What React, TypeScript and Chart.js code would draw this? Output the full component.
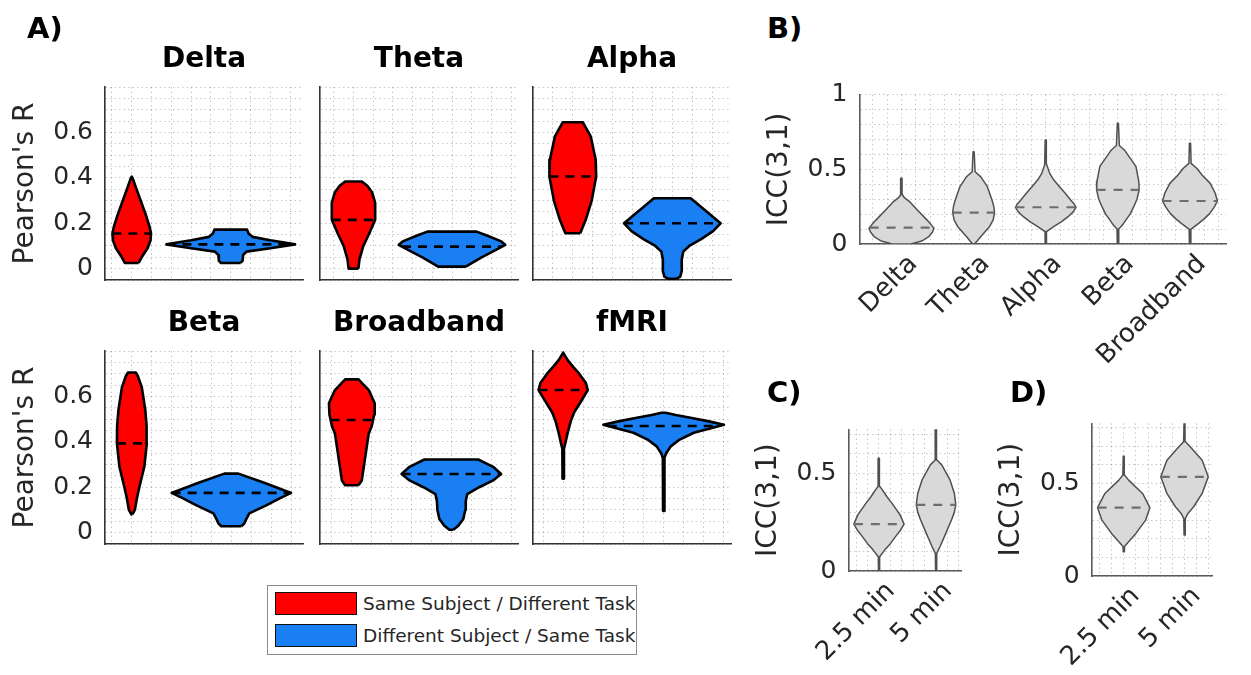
import React, { useEffect, useRef } from 'react';
import { Chart, registerables } from 'chart.js';

Chart.register(...registerables);

const FONT = "'DejaVu Sans', sans-serif";
Chart.defaults.font.family = FONT;

type Profile = number[][]; // [value, half-width] pairs, ascending by value

// ---------- Panel A: Pearson's R distributions ----------
const bandTitles = ['Delta', 'Theta', 'Alpha', 'Beta', 'Broadband', 'fMRI'];
const sameMedians = [0.155, 0.215, 0.406, 0.393, 0.496, 0.628];
const diffMedians = [0.107, 0.097, 0.2, 0.175, 0.258, 0.47];

const deltaSame: Profile = [[0.025, 0.07], [0.05, 0.1], [0.09, 0.16], [0.125, 0.19], [0.155, 0.195], [0.185, 0.18], [0.24, 0.14], [0.3, 0.09], [0.36, 0.04], [0.395, 0.012], [0.405, 0]];
const deltaDiff: Profile = [[0.025, 0.1], [0.035, 0.12], [0.06, 0.125], [0.075, 0.16], [0.09, 0.4], [0.107, 0.65], [0.125, 0.4], [0.14, 0.22], [0.155, 0.18], [0.172, 0.165]];
const thetaSame: Profile = [[0, 0.05], [0.04, 0.06], [0.1, 0.1], [0.155, 0.16], [0.215, 0.22], [0.29, 0.22], [0.335, 0.19], [0.365, 0.14], [0.384, 0.085]];
const thetaDiff: Profile = [[0.009, 0.14], [0.05, 0.3], [0.09, 0.48], [0.105, 0.54], [0.12, 0.5], [0.145, 0.36], [0.163, 0.25]];
const alphaSame: Profile = [[0.156, 0.075], [0.215, 0.13], [0.3, 0.19], [0.406, 0.235], [0.48, 0.23], [0.583, 0.18], [0.645, 0.1]];
const alphaDiff: Profile = [[-0.045, 0.04], [-0.035, 0.08], [-0.01, 0.095], [0.04, 0.095], [0.075, 0.11], [0.1, 0.17], [0.13, 0.29], [0.165, 0.41], [0.2, 0.485], [0.25, 0.35], [0.31, 0.185]];
const betaSame: Profile = [[0.08, 0.005], [0.1, 0.03], [0.15, 0.05], [0.2, 0.075], [0.29, 0.125], [0.393, 0.15], [0.47, 0.148], [0.54, 0.135], [0.64, 0.1], [0.69, 0.06], [0.705, 0.04]];
const betaDiff: Profile = [[0.028, 0.1], [0.04, 0.13], [0.06, 0.15], [0.085, 0.18], [0.12, 0.35], [0.15, 0.48], [0.175, 0.6], [0.22, 0.33], [0.26, 0.07]];
const broadbandSame: Profile = [[0.209, 0.067], [0.23, 0.1], [0.29, 0.12], [0.364, 0.145], [0.437, 0.17], [0.47, 0.2], [0.52, 0.225], [0.57, 0.23], [0.628, 0.17], [0.675, 0.067]];
const broadbandDiff: Profile = [[0.013, 0.02], [0.03, 0.07], [0.06, 0.12], [0.1, 0.14], [0.14, 0.145], [0.17, 0.16], [0.2, 0.28], [0.23, 0.42], [0.258, 0.5], [0.29, 0.42], [0.322, 0.27]];
const fmriSame: Profile = [[0.238, 0.006], [0.37, 0.008], [0.4, 0.025], [0.44, 0.045], [0.49, 0.075], [0.53, 0.11], [0.58, 0.18], [0.628, 0.245], [0.66, 0.225], [0.7, 0.16], [0.73, 0.1], [0.76, 0.045], [0.793, 0]];
const fmriDiff: Profile = [[0.096, 0.006], [0.33, 0.008], [0.35, 0.025], [0.38, 0.07], [0.41, 0.16], [0.44, 0.3], [0.46, 0.47], [0.475, 0.6], [0.49, 0.45], [0.505, 0.28], [0.518, 0.12], [0.528, 0.02]];

const sameProfiles = [deltaSame, thetaSame, alphaSame, betaSame, broadbandSame, fmriSame];
const diffProfiles = [deltaDiff, thetaDiff, alphaDiff, betaDiff, broadbandDiff, fmriDiff];
const pearsonTicks = [0, 0.2, 0.4, 0.6];

// ---------- Panel B: ICC(3,1) per band ----------
const iccBands = ['Delta', 'Theta', 'Alpha', 'Beta', 'Broadband'];
const iccMedians = [0.11, 0.21, 0.246, 0.362, 0.288];
const iccDelta: Profile = [[0, 0.13], [0.02, 0.28], [0.05, 0.38], [0.08, 0.43], [0.105, 0.45], [0.13, 0.41], [0.16, 0.355], [0.228, 0.22], [0.28, 0.12], [0.31, 0.04], [0.33, 0.012], [0.44, 0.008]];
const iccTheta: Profile = [[0, 0.01], [0.02, 0.05], [0.05, 0.1], [0.116, 0.22], [0.16, 0.27], [0.21, 0.29], [0.25, 0.28], [0.295, 0.255], [0.384, 0.19], [0.45, 0.1], [0.484, 0.02], [0.618, 0.008]];
const iccAlpha: Profile = [[0, 0.008], [0.083, 0.01], [0.1, 0.06], [0.116, 0.11], [0.15, 0.22], [0.183, 0.31], [0.215, 0.38], [0.246, 0.42], [0.27, 0.39], [0.295, 0.345], [0.34, 0.27], [0.384, 0.19], [0.43, 0.11], [0.473, 0.055], [0.53, 0.015], [0.696, 0.008]];
const iccBeta: Profile = [[0, 0.008], [0.1, 0.012], [0.125, 0.06], [0.16, 0.11], [0.2, 0.17], [0.25, 0.22], [0.3, 0.265], [0.362, 0.295], [0.42, 0.29], [0.47, 0.27], [0.52, 0.25], [0.575, 0.17], [0.63, 0.09], [0.66, 0.02], [0.808, 0.008]];
const iccBroadband: Profile = [[0, 0.008], [0.098, 0.012], [0.12, 0.07], [0.138, 0.12], [0.17, 0.2], [0.205, 0.275], [0.25, 0.34], [0.288, 0.38], [0.34, 0.35], [0.406, 0.28], [0.46, 0.17], [0.507, 0.093], [0.54, 0.015], [0.674, 0.008]];
const iccProfiles = [iccDelta, iccTheta, iccAlpha, iccBeta, iccBroadband];
const iccTicksB = [0, 0.5, 1];

// ---------- Panels C and D: ICC(3,1) by recording length ----------
const durations = ['2.5 min', '5 min'];
const durMediansC = [0.24, 0.338];
const durMediansD = [0.369, 0.536];
const durC25: Profile = [[0, 0.008], [0.073, 0.012], [0.107, 0.1], [0.14, 0.2], [0.176, 0.29], [0.21, 0.38], [0.24, 0.44], [0.287, 0.37], [0.346, 0.23], [0.38, 0.14], [0.415, 0.06], [0.432, 0.015], [0.577, 0.008]];
const durC5: Profile = [[0, 0.008], [0.09, 0.012], [0.125, 0.07], [0.176, 0.146], [0.261, 0.27], [0.3, 0.32], [0.338, 0.346], [0.398, 0.32], [0.466, 0.245], [0.543, 0.1], [0.568, 0.015], [0.725, 0.008]];
const durD25: Profile = [[0.131, 0.008], [0.16, 0.012], [0.185, 0.08], [0.23, 0.2], [0.302, 0.36], [0.369, 0.43], [0.446, 0.31], [0.518, 0.08], [0.545, 0.015], [0.647, 0.008]];
const durD5: Profile = [[0.221, 0.008], [0.31, 0.012], [0.338, 0.056], [0.374, 0.15], [0.446, 0.29], [0.536, 0.39], [0.626, 0.29], [0.698, 0.093], [0.725, 0.015], [0.824, 0.008]];
const iccTicksCD = [0, 0.5];

const legendLabels = ['Same Subject / Different Task', 'Different Subject / Same Task'];

// ---------- styling ----------
const RED = '#ff0000';
const BLUE = '#1a7ff2';
const GRAY_FILL = '#d9d9d9';
const GRAY_LINE = '#505050';
const GRAY_MEDIAN = '#6e6e6e';
const GRID = 'rgba(0,0,0,0.22)';
const TICK = '#262626';

type Violin = {
  center: number; profile: Profile; median: number;
  fill: string; stroke: string; strokeWidth: number;
  medianColor: string; medianWidth: number; dash: number[];
};

type PanelSpec = {
  key: string;
  left: number; top: number; width: number; height: number;
  padTop: number; padRight: number;
  yAxisWidth: number; xAxisHeight: number;
  xMin: number; xMax: number; yMin: number; yMax: number;
  xGrid: number[]; yGrid: number[];
  yLabels: number[] | null; xNames: string[] | null;
  title?: string; yTitle?: string; yTitlePad?: number;
  axisColor: string;
  violins: Violin[];
};

function steps(from: number, to: number, step: number): number[] {
  const out: number[] = [];
  for (let v = from; v <= to + 1e-9; v += step) out.push(Math.round(v * 1000) / 1000);
  return out;
}

function outline(center: number, profile: Profile) {
  const right = profile.map(([y, w]) => ({ x: center + w, y }));
  const left = profile.slice().reverse().map(([y, w]) => ({ x: center - w, y }));
  return [...right, ...left, right[0]];
}

function widthAt(profile: Profile, v: number): number {
  for (let i = 1; i < profile.length; i++) {
    const [y0, w0] = profile[i - 1];
    const [y1, w1] = profile[i];
    if (v >= y0 && v <= y1) return w0 + ((v - y0) / (y1 - y0)) * (w1 - w0);
  }
  return 0;
}

function buildConfig(s: PanelSpec): any {
  const datasets: any[] = [];
  s.violins.forEach((v) => {
    // violin body (drawn underneath the median line)
    datasets.push({
      data: outline(v.center, v.profile),
      order: 2,
      showLine: true,
      fill: 'shape',
      backgroundColor: v.fill,
      borderColor: v.stroke,
      borderWidth: v.strokeWidth,
      borderJoinStyle: 'round',
      pointRadius: 0,
      tension: 0,
    });
    const hw = widthAt(v.profile, v.median);
    datasets.push({
      data: [{ x: v.center - hw, y: v.median }, { x: v.center + hw, y: v.median }],
      order: 1,
      showLine: true,
      fill: false,
      borderColor: v.medianColor,
      borderWidth: v.medianWidth,
      borderDash: v.dash,
      pointRadius: 0,
    });
  });

  const yLabel = (val: number) => {
    if (!s.yLabels) return '';
    const hit = s.yLabels.find((l) => Math.abs(l - val) < 1e-6);
    return hit === undefined ? '' : String(hit);
  };
  const xLabel = (val: number) => {
    if (!s.xNames) return '';
    const r = Math.round(val);
    if (Math.abs(val - r) > 1e-6 || r < 1 || r > s.xNames.length) return '';
    return s.xNames[r - 1];
  };

  return {
    type: 'scatter',
    data: { datasets },
    options: {
      responsive: false,
      animation: false,
      events: [],
      layout: { padding: { top: s.padTop, right: s.padRight, left: 0, bottom: 0 } },
      plugins: {
        legend: { display: false },
        tooltip: { enabled: false },
        title: s.title
          ? {
              display: true,
              text: s.title,
              fullSize: false,
              color: '#000',
              font: { family: FONT, size: 28, weight: 'bold', lineHeight: 1.2 },
              padding: { top: 3.2, bottom: 10.2 },
            }
          : { display: false },
      },
      scales: {
        x: {
          type: 'linear',
          min: s.xMin,
          max: s.xMax,
          bounds: 'data',
          afterBuildTicks: (scale: any) => { scale.ticks = s.xGrid.map((value) => ({ value })); },
          afterFit: (scale: any) => { scale.height = s.xAxisHeight; },
          grid: { color: GRID, lineWidth: 1, drawTicks: false },
          border: { display: true, color: s.axisColor, width: 1.6, dash: [1.5, 3] },
          ticks: {
            display: !!s.xNames,
            autoSkip: false,
            minRotation: 45,
            maxRotation: 45,
            padding: 5,
            labelOffset: 12,
            color: TICK,
            font: { family: FONT, size: 26 },
            callback: (val: any) => xLabel(Number(val)),
          },
        },
        y: {
          type: 'linear',
          min: s.yMin,
          max: s.yMax,
          bounds: 'data',
          afterBuildTicks: (scale: any) => { scale.ticks = s.yGrid.map((value) => ({ value })); },
          afterFit: (scale: any) => { scale.width = s.yAxisWidth; },
          grid: { color: GRID, lineWidth: 1, drawTicks: false },
          border: { display: true, color: s.axisColor, width: 1.6, dash: [1.5, 3] },
          ticks: {
            display: !!s.yLabels,
            autoSkip: false,
            padding: 12,
            color: TICK,
            font: { family: FONT, size: 25 },
            callback: (val: any) => yLabel(Number(val)),
          },
          title: {
            display: !!s.yTitle,
            text: s.yTitle || '',
            color: TICK,
            font: { family: FONT, size: 28, lineHeight: 1.2 },
            padding: { top: s.yTitlePad || 0, bottom: 0 },
          },
        },
      },
    },
  };
}

// ---------- panel layout ----------
const colLeft = [0, 300, 513];
const colAxisW = [105, 20, 20];
const colWidth = [305, 220, 220];
const rowTop = [40, 304];
const panelXMin = [0.73, 0.66, 0.6, 0.73, 0.68, 0.7];
const panelXMax = [2.73, 2.67, 2.59, 2.72, 2.67, 2.67];

const bandSpecs: PanelSpec[] = bandTitles.map((title, i) => {
  const col = i % 3;
  const row = Math.floor(i / 3);
  const xGrid = steps(0.8, 2.6, 0.2).filter((v) => v > panelXMin[i] && v < panelXMax[i]);
  return {
    key: title,
    left: colLeft[col], top: rowTop[row], width: colWidth[col], height: 270,
    padTop: 0, padRight: 2,
    yAxisWidth: colAxisW[col], xAxisHeight: 30,
    xMin: panelXMin[i], xMax: panelXMax[i], yMin: -0.05, yMax: 0.8,
    xGrid, yGrid: steps(-0.05, 0.8, 0.05),
    yLabels: col === 0 ? pearsonTicks : null, xNames: null,
    title, yTitle: col === 0 ? "Pearson's R" : undefined, yTitlePad: 9,
    axisColor: '#333333',
    violins: [
      { center: 1, profile: sameProfiles[i], median: sameMedians[i], fill: RED, stroke: '#000', strokeWidth: 2.6, medianColor: '#000', medianWidth: 2.6, dash: [9, 7] },
      { center: 2, profile: diffProfiles[i], median: diffMedians[i], fill: BLUE, stroke: '#000', strokeWidth: 2.6, medianColor: '#000', medianWidth: 2.6, dash: [9, 7] },
    ],
  };
});

const grayViolin = (center: number, profile: Profile, median: number): Violin => ({
  center, profile, median, fill: GRAY_FILL, stroke: GRAY_LINE, strokeWidth: 1.5,
  medianColor: GRAY_MEDIAN, medianWidth: 2.2, dash: [9, 8],
});

const iccSpec: PanelSpec = {
  key: 'B',
  left: 740, top: 65, width: 506, height: 325,
  padTop: 29.7, padRight: 4,
  yAxisWidth: 119.3, xAxisHeight: 146,
  xMin: 0.415, xMax: 5.5, yMin: 0, yMax: 1,
  xGrid: steps(0.6, 5.4, 0.2), yGrid: steps(0, 1, 0.1),
  yLabels: iccTicksB, xNames: iccBands,
  yTitle: 'ICC(3,1)', yTitlePad: 23,
  axisColor: '#5a5a5a',
  violins: iccProfiles.map((p, i) => grayViolin(i + 1, p, iccMedians[i])),
};

const durSpecC: PanelSpec = {
  key: 'C',
  left: 740, top: 399, width: 246, height: 276,
  padTop: 30.3, padRight: 3,
  yAxisWidth: 108.3, xAxisHeight: 104,
  xMin: 0.463, xMax: 2.44, yMin: 0, yMax: 0.725,
  xGrid: steps(0.6, 2.4, 0.2), yGrid: steps(0, 0.7, 0.1),
  yLabels: iccTicksCD, xNames: durations,
  yTitle: 'ICC(3,1)', yTitlePad: 12,
  axisColor: '#5a5a5a',
  violins: [grayViolin(1, durC25, durMediansC[0]), grayViolin(2, durC5, durMediansC[1])],
};

const durSpecD: PanelSpec = {
  key: 'D',
  left: 990, top: 393, width: 246, height: 282,
  padTop: 30.3, padRight: 3,
  yAxisWidth: 101.7, xAxisHeight: 99,
  xMin: 0.473, xMax: 2.457, yMin: 0, yMax: 0.825,
  xGrid: steps(0.6, 2.4, 0.2), yGrid: steps(0, 0.8, 0.1),
  yLabels: iccTicksCD, xNames: durations,
  yTitle: 'ICC(3,1)', yTitlePad: 5,
  axisColor: '#5a5a5a',
  violins: [grayViolin(1, durD25, durMediansD[0]), grayViolin(2, durD5, durMediansD[1])],
};

const allSpecs = [...bandSpecs, iccSpec, durSpecC, durSpecD];

function ViolinPanel({ spec }: { spec: PanelSpec }) {
  const ref = useRef<HTMLCanvasElement>(null);
  useEffect(() => {
    if (!ref.current) return;
    const chart = new Chart(ref.current, buildConfig(spec));
    return () => chart.destroy();
  }, [spec]);
  return (
    <canvas
      ref={ref}
      width={spec.width}
      height={spec.height}
      style={{ position: 'absolute', left: spec.left, top: spec.top, width: spec.width, height: spec.height }}
    />
  );
}

const panelLetters = [
  { text: 'A)', left: 27, top: 13.5 },
  { text: 'B)', left: 767, top: 13.5 },
  { text: 'C)', left: 767, top: 378 },
  { text: 'D)', left: 1010, top: 378 },
];

export default function App() {
  return (
    <div style={{ position: 'absolute', left: 0, top: 0, width: 1251, height: 675, background: '#fff', overflow: 'hidden' }}>
      {allSpecs.map((s) => (
        <ViolinPanel key={s.key} spec={s} />
      ))}
      {panelLetters.map((p) => (
        <div
          key={p.text}
          style={{ position: 'absolute', left: p.left, top: p.top, font: `bold 29px ${FONT}`, lineHeight: '29px', color: '#000' }}
        >
          {p.text}
        </div>
      ))}
      <div
        style={{ position: 'absolute', left: 267, top: 585, width: 370, height: 70, border: '1px solid #8c8c8c', boxSizing: 'border-box', background: '#fff' }}
      >
        {legendLabels.map((label, i) => (
          <div key={label} style={{ position: 'absolute', left: 7, top: 6 + i * 32, height: 23, display: 'flex', alignItems: 'center' }}>
            <span style={{ display: 'inline-block', width: 82, height: 23, background: i === 0 ? RED : BLUE, border: '1.5px solid #111', boxSizing: 'border-box' }} />
            <span style={{ marginLeft: 6, font: `18.5px ${FONT}`, color: TICK, whiteSpace: 'nowrap' }}>{label}</span>
          </div>
        ))}
      </div>
    </div>
  );
}
